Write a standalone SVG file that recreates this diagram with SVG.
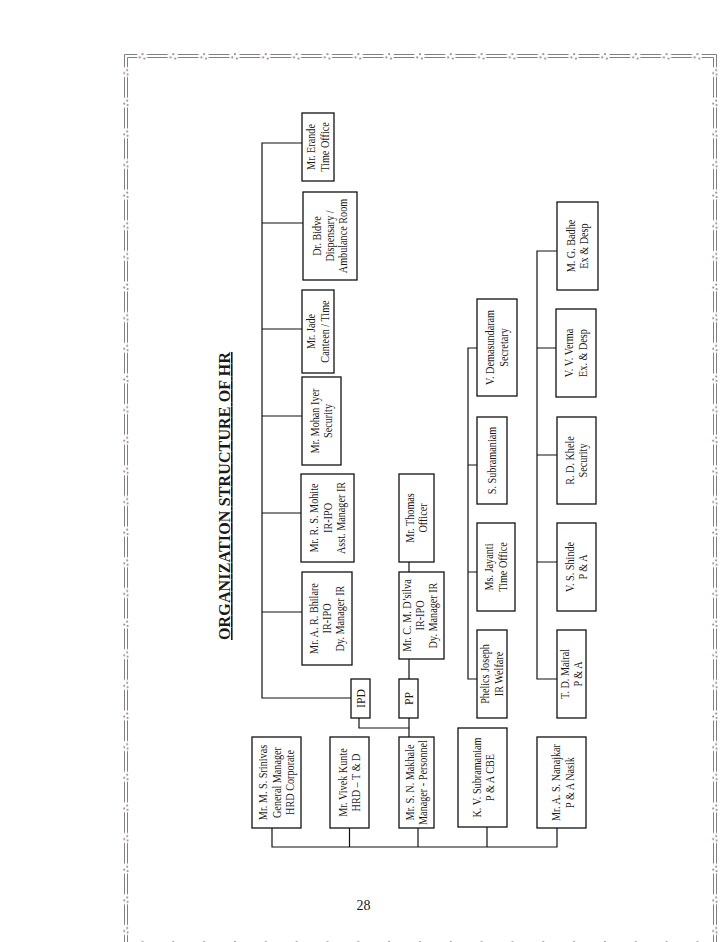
<svg xmlns="http://www.w3.org/2000/svg" width="728" height="942" viewBox="0 0 728 942">
<style>
.n rect{fill:#fff;stroke:#111;stroke-width:1.3}
.n text{font-family:"Liberation Serif","Times New Roman",serif;font-size:12px;fill:#1a1a1a;text-anchor:middle}
.n text.big{font-size:13px}
#connectors path{fill:none;stroke:#111;stroke-width:1.2}
.bl{fill:none;stroke:#808080;stroke-width:1}
.dot{fill:#a38f8f}
.title{font-family:"Liberation Serif","Times New Roman",serif;font-size:16px;font-weight:bold;fill:#1a1a1a;text-anchor:middle;text-decoration:underline}
.pg{font-family:"Liberation Serif","Times New Roman",serif;font-size:14px;fill:#1a1a1a;text-anchor:middle}
</style>
<defs>
<pattern id="bh" patternUnits="userSpaceOnUse" x="126.585" y="50" width="30.83" height="12">
<path class="bl" d="M0,4.5H10.4M20.4,4.5H30.83M0,7.5H10.4M20.4,7.5H30.83"/>
<circle class="dot" cx="15.9" cy="4.2" r="1.1"/>
<circle class="dot" cx="13.2" cy="7.4" r="1.1"/>
<circle class="dot" cx="17.8" cy="8.6" r="1.1"/>
</pattern>
<pattern id="bv" patternUnits="userSpaceOnUse" x="120" y="56.68" width="12" height="30.64">
<path class="bl" d="M4.5,0V10.32M4.5,20.32V30.64M7.5,0V10.32M7.5,20.32V30.64"/>
<circle class="dot" cx="7.2" cy="13.4" r="1.1"/>
<circle class="dot" cx="4.2" cy="16.4" r="1.1"/>
<circle class="dot" cx="7.6" cy="17.8" r="1.1"/>
</pattern>
</defs>
<rect width="728" height="942" fill="#fff"/>
<g id="border">
<path class="bl" d="M124.5,67V54.5H137M127.5,67V57.5H137M702,54.5H716.5V67M702,57.5H713.5V67"/>
<rect x="137" y="50" width="565" height="12" fill="url(#bh)"/>
<rect x="120" y="67" width="12" height="890" fill="url(#bv)"/>
<g transform="translate(589,0)"><rect x="120" y="67" width="12" height="890" fill="url(#bv)"/></g>
<g transform="translate(0,888)"><rect x="137" y="50" width="565" height="12" fill="url(#bh)"/></g>
</g>
<text class="title" transform="translate(230,496) rotate(-90)" textLength="288" lengthAdjust="spacing">ORGANIZATION STRUCTURE OF HR</text>
<g id="connectors">
<path d="M272,828V847H557V828M349.5,828V847M418,828V847M487,827V847"/>
<path d="M409,737V718M359,718V728H409M409,679V659M409,572V562"/>
<path d="M351,698H262V143H302M262,223H303M262,329H302M262,416H302M262,513H301M262,612H302"/>
<path d="M477,679H468V348H477M468,572H477M468,465H477"/>
<path d="M557,679H537V251H557M537,562H557M537,455H557M537,348H556"/>
</g>
<g id="srinivas" class="n"><rect x="252" y="737" width="49" height="91"/><text transform="translate(276.5,782.5) rotate(-90) scale(0.85,1)"><tspan x="0" y="-9.5">Mr. M. S. Srinivas</tspan><tspan x="0" y="4">General Manager</tspan><tspan x="0" y="17.5">HRD Corporate</tspan></text></g>
<g id="kunte" class="n"><rect x="330" y="737" width="39" height="91"/><text transform="translate(349.5,782.5) rotate(-90) scale(0.85,1)"><tspan x="0" y="-2.7">Mr. Vivek Kunte</tspan><tspan x="0" y="10.5">HRD – T &amp; D</tspan></text></g>
<g id="makhale" class="n"><rect x="399" y="737" width="35" height="91"/><text transform="translate(416.5,782.5) rotate(-90) scale(0.85,1)"><tspan x="0" y="-2.7">Mr. S. N. Makhale</tspan><tspan x="0" y="10.5">Manager - Personnel</tspan></text></g>
<g id="kvsubramaniam" class="n"><rect x="458" y="728" width="49" height="99"/><text transform="translate(483.5,777.5) rotate(-90) scale(0.85,1)"><tspan x="0" y="-2.7">K. V. Subramaniam</tspan><tspan x="0" y="10.5">P &amp; A CBE</tspan></text></g>
<g id="nanajkar" class="n"><rect x="537" y="737" width="49" height="91"/><text transform="translate(563,782.5) rotate(-90) scale(0.85,1)"><tspan x="0" y="-2.7">Mr. A. S. Nanajkar</tspan><tspan x="0" y="10.5">P &amp; A Nasik</tspan></text></g>
<g id="ipd" class="n"><rect x="351" y="679" width="19" height="39"/><text class="big" transform="translate(360.5,698.5) rotate(-90) scale(0.9,1)"><tspan x="0" y="4.5">IPD</tspan></text></g>
<g id="pp" class="n"><rect x="399" y="679" width="19" height="39"/><text class="big" transform="translate(408.5,698.5) rotate(-90) scale(0.9,1)"><tspan x="0" y="4.5">PP</tspan></text></g>
<g id="bhilare" class="n"><rect x="302" y="572" width="50" height="93"/><text transform="translate(327,618.5) rotate(-90) scale(0.85,1)"><tspan x="0" y="-9.5">Mr. A. R. Bhilare</tspan><tspan x="0" y="4">IR-IPO</tspan><tspan x="0" y="17.5">Dy. Manager IR</tspan></text></g>
<g id="mohite" class="n"><rect x="301" y="474" width="53" height="88"/><text transform="translate(327.5,518) rotate(-90) scale(0.85,1)"><tspan x="0" y="-9.5">Mr. R. S. Mohite</tspan><tspan x="0" y="4">IR-IPO</tspan><tspan x="0" y="17.5">Asst. Manager IR</tspan></text></g>
<g id="iyer" class="n"><rect x="302" y="377" width="39" height="88"/><text transform="translate(321.5,421) rotate(-90) scale(0.85,1)"><tspan x="0" y="-2.7">Mr. Mohan Iyer</tspan><tspan x="0" y="10.5">Security</tspan></text></g>
<g id="jade" class="n"><rect x="302" y="290" width="32" height="83"/><text transform="translate(318,331.5) rotate(-90) scale(0.85,1)"><tspan x="0" y="-2.7">Mr. Jade</tspan><tspan x="0" y="10.5">Canteen / Time</tspan></text></g>
<g id="bidve" class="n"><rect x="303" y="192" width="54" height="88"/><text transform="translate(330,236) rotate(-90) scale(0.85,1)"><tspan x="0" y="-9.5">Dr. Bidve</tspan><tspan x="0" y="4">Dispensary /</tspan><tspan x="0" y="17.5">Ambulance Room</tspan></text></g>
<g id="erande" class="n"><rect x="302" y="113" width="32" height="68"/><text transform="translate(318,147) rotate(-90) scale(0.85,1)"><tspan x="0" y="-2.7">Mr. Erande</tspan><tspan x="0" y="10.5">Time Office</tspan></text></g>
<g id="dsilva" class="n"><rect x="399" y="572" width="45" height="87"/><text transform="translate(420,615.5) rotate(-90) scale(0.85,1)"><tspan x="0" y="-9.5">Mr. C. M. D’silva</tspan><tspan x="0" y="4">IR-IPO</tspan><tspan x="0" y="17.5">Dy. Manager IR</tspan></text></g>
<g id="thomas" class="n"><rect x="399" y="474" width="35" height="88"/><text transform="translate(416.5,518) rotate(-90) scale(0.85,1)"><tspan x="0" y="-2.7">Mr. Thomas</tspan><tspan x="0" y="10.5">Officer</tspan></text></g>
<g id="phelics" class="n"><rect x="477" y="630" width="30" height="88"/><text transform="translate(492,674) rotate(-90) scale(0.85,1)"><tspan x="0" y="-2.7">Phelics Joseph</tspan><tspan x="0" y="10.5">IR Welfare</tspan></text></g>
<g id="jayanti" class="n"><rect x="477" y="523" width="38" height="88"/><text transform="translate(496,567) rotate(-90) scale(0.85,1)"><tspan x="0" y="-2.7">Ms. Jayanti</tspan><tspan x="0" y="10.5">Time Office</tspan></text></g>
<g id="ssubramaniam" class="n"><rect x="477" y="417" width="30" height="87"/><text transform="translate(492,460.5) rotate(-90) scale(0.85,1)"><tspan x="0" y="4">S. Subramaniam</tspan></text></g>
<g id="demasundaram" class="n"><rect x="477" y="299" width="40" height="97"/><text transform="translate(497,347.5) rotate(-90) scale(0.85,1)"><tspan x="0" y="-2.7">V. Demasundaram</tspan><tspan x="0" y="10.5">Secretary</tspan></text></g>
<g id="mairal" class="n"><rect x="557" y="630" width="29" height="88"/><text transform="translate(571.5,674) rotate(-90) scale(0.85,1)"><tspan x="0" y="-2.7">T. D. Mairal</tspan><tspan x="0" y="10.5">P &amp; A</tspan></text></g>
<g id="shinde" class="n"><rect x="557" y="523" width="39" height="88"/><text transform="translate(576.5,567) rotate(-90) scale(0.85,1)"><tspan x="0" y="-2.7">V. S. Shinde</tspan><tspan x="0" y="10.5">P &amp; A</tspan></text></g>
<g id="khele" class="n"><rect x="557" y="417" width="39" height="87"/><text transform="translate(576.5,460.5) rotate(-90) scale(0.85,1)"><tspan x="0" y="-2.7">R. D. Khele</tspan><tspan x="0" y="10.5">Security</tspan></text></g>
<g id="verma" class="n"><rect x="556" y="309" width="40" height="88"/><text transform="translate(576,353) rotate(-90) scale(0.85,1)"><tspan x="0" y="-2.7">V. V. Verma</tspan><tspan x="0" y="10.5">Ex. &amp; Desp</tspan></text></g>
<g id="badhe" class="n"><rect x="557" y="202" width="41" height="88"/><text transform="translate(577.5,246) rotate(-90) scale(0.85,1)"><tspan x="0" y="-2.7">M. G. Badhe</tspan><tspan x="0" y="10.5">Ex &amp; Desp</tspan></text></g>
<text class="pg" x="363.5" y="910">28</text>
</svg>
